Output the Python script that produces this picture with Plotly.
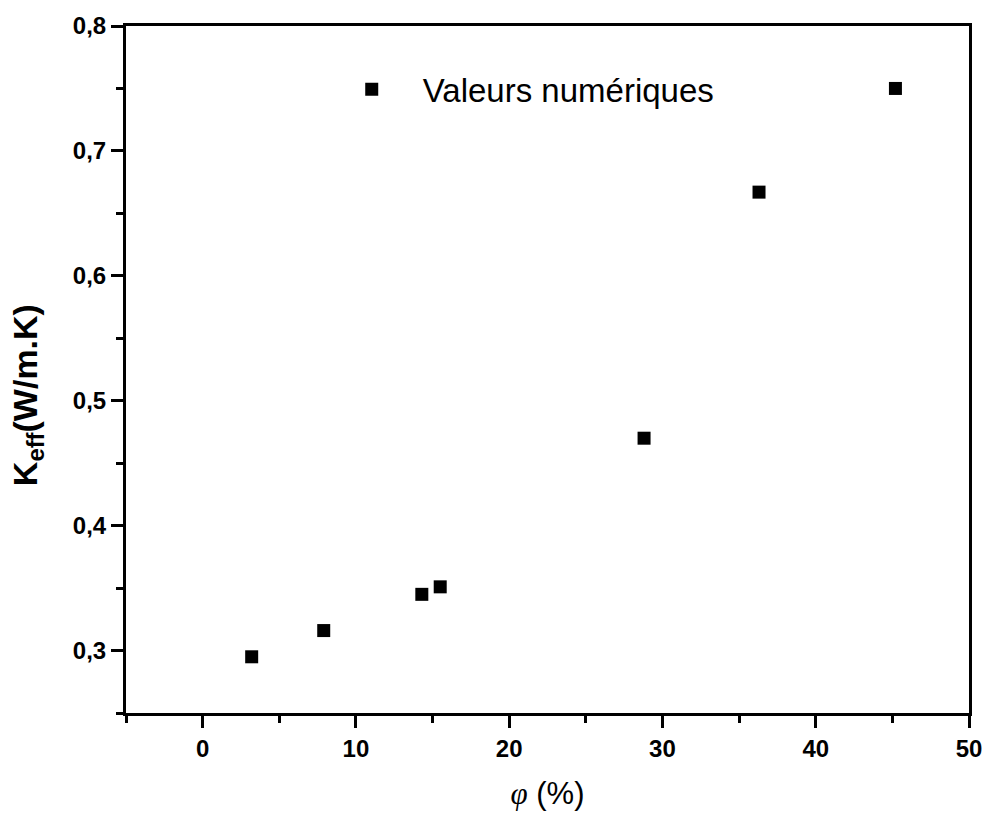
import plotly.graph_objects as go

# Data
phi = [3.2, 7.9, 14.3, 15.5, 28.8, 36.3, 45.2]
keff = [0.295, 0.316, 0.345, 0.351, 0.470, 0.667, 0.750]
series_name = "Valeurs numériques"

x_range = [-5, 50]
y_range = [0.25, 0.8]

FONT = "Liberation Sans, Arial, sans-serif"

fig = go.Figure()
fig.add_trace(go.Scatter(
    x=phi, y=keff, mode="markers", name=series_name,
    marker=dict(symbol="square", size=13, color="black", line=dict(width=0)),
    showlegend=True,
))

axis_common = dict(
    showline=True, linecolor="black", linewidth=3, mirror=True,
    ticks="outside", ticklen=12, tickwidth=2.5, tickcolor="black",
    showgrid=False, zeroline=False, automargin=False,
    tickfont=dict(family=FONT, size=24, color="black", weight="bold"),
)

fig.update_xaxes(
    range=x_range, tick0=0, dtick=10,
    minor=dict(ticks="outside", ticklen=7, tickwidth=2.5, tickcolor="black", dtick=5, tick0=0, showgrid=False),
    title=dict(text='<span style="font-family:Liberation Serif"><i>φ</i></span> (%)',
               font=dict(family=FONT, size=31, color="black"), standoff=22),
    **axis_common,
)
fig.update_yaxes(
    range=y_range, tick0=0.3, dtick=0.1, tickformat=".1f",
    minor=dict(ticks="outside", ticklen=7, tickwidth=2.5, tickcolor="black", dtick=0.05, tick0=0.25, showgrid=False),
    **axis_common,
)

fig.add_annotation(
    text="K<sub>eff</sub>(W/m.K)", textangle=-90,
    xref="paper", yref="paper", x=-0.116, y=0.463,
    xanchor="center", yanchor="middle", showarrow=False,
    font=dict(family=FONT, size=34, color="black", weight="bold"),
)

fig.update_layout(
    width=986, height=816,
    margin=dict(l=126, r=17, t=26, b=103),
    paper_bgcolor="white", plot_bgcolor="white",
    separators=", ",
    legend=dict(x=0.231, y=0.908, xanchor="left", yanchor="middle",
                font=dict(family=FONT, size=33, color="black"),
                bgcolor="rgba(0,0,0,0)", itemwidth=92),
    showlegend=True,
)

fig.write_html("out.html")
